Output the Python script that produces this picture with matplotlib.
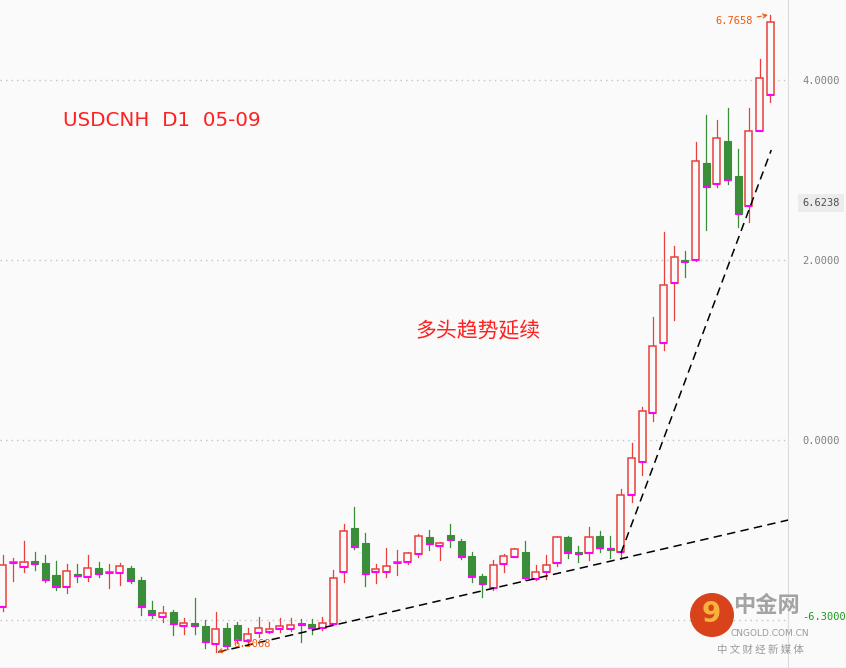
import matplotlib
matplotlib.use("Agg")
import matplotlib.pyplot as plt
import matplotlib.patches as patches

# DAILY CANDLES (USDCNH D1)
opens = [6.3144, 6.3496, 6.3464, 6.3512, 6.3496, 6.3400, 6.3304, 6.3408, 6.3384, 6.3456,
         6.3420, 6.3416, 6.3456, 6.3360, 6.3120, 6.3064, 6.3104, 6.2992, 6.3016, 6.2992,
         6.2848, 6.2976, 6.3000, 6.2872, 6.2936, 6.2944, 6.2968, 6.2968, 6.3016, 6.3008,
         6.2976, 6.3008, 6.3424, 6.3776, 6.3656, 6.3424, 6.3424, 6.3496, 6.3504, 6.3568,
         6.3704, 6.3632, 6.3720, 6.3672, 6.3552, 6.3392, 6.3296, 6.3488, 6.3544, 6.3584,
         6.3368, 6.3424, 6.3496, 6.3704, 6.3584, 6.3576, 6.3712, 6.3616, 6.3584, 6.4040,
         6.4304, 6.4696, 6.5256, 6.5736, 6.5920, 6.5920, 6.6696, 6.6528, 6.6872, 6.6592,
         6.6352, 6.6952, 6.7240]
highs = [6.3560, 6.3536, 6.3672, 6.3584, 6.3560, 6.3512, 6.3488, 6.3488, 6.3560, 6.3504,
         6.3488, 6.3496, 6.3472, 6.3384, 6.3192, 6.3152, 6.3120, 6.3056, 6.3216, 6.3040,
         6.3104, 6.3016, 6.3024, 6.2976, 6.3064, 6.3024, 6.3056, 6.3056, 6.3048, 6.3048,
         6.3064, 6.3440, 6.3808, 6.3944, 6.3736, 6.3488, 6.3616, 6.3600, 6.3584, 6.3728,
         6.3760, 6.3664, 6.3808, 6.3688, 6.3584, 6.3408, 6.3520, 6.3568, 6.3616, 6.3672,
         6.3480, 6.3560, 6.3712, 6.3712, 6.3632, 6.3784, 6.3752, 6.3712, 6.4088, 6.4456,
         6.4744, 6.5464, 6.6144, 6.6032, 6.5992, 6.6864, 6.7080, 6.7040, 6.7136, 6.6808,
         6.7136, 6.7528, 6.7880]
lows = [6.3112, 6.3352, 6.3424, 6.3440, 6.3344, 6.3280, 6.3256, 6.3344, 6.3352, 6.3384,
        6.3296, 6.3320, 6.3336, 6.3080, 6.3056, 6.3024, 6.2920, 6.2928, 6.2928, 6.2816,
        6.2784, 6.2808, 6.2856, 6.2840, 6.2904, 6.2936, 6.2944, 6.2952, 6.2864, 6.2928,
        6.2960, 6.3000, 6.3344, 6.3608, 6.3312, 6.3336, 6.3384, 6.3400, 6.3488, 6.3544,
        6.3600, 6.3520, 6.3624, 6.3528, 6.3344, 6.3224, 6.3280, 6.3424, 6.3544, 6.3360,
        6.3360, 6.3368, 6.3472, 6.3536, 6.3504, 6.3520, 6.3584, 6.3536, 6.3528, 6.3984,
        6.4200, 6.4632, 6.5200, 6.5440, 6.5784, 6.5912, 6.6160, 6.6504, 6.6528, 6.6184,
        6.6224, 6.6952, 6.7184]
closes = [6.3480, 6.3504, 6.3504, 6.3488, 6.3360, 6.3304, 6.3432, 6.3392, 6.3456, 6.3408,
          6.3424, 6.3472, 6.3352, 6.3144, 6.3080, 6.3096, 6.3008, 6.3016, 6.2992, 6.2864,
          6.2968, 6.2832, 6.2880, 6.2928, 6.2976, 6.2968, 6.2992, 6.3000, 6.3000, 6.2976,
          6.3016, 6.3376, 6.3752, 6.3624, 6.3408, 6.3448, 6.3472, 6.3504, 6.3576, 6.3712,
          6.3648, 6.3656, 6.3680, 6.3544, 6.3384, 6.3328, 6.3480, 6.3552, 6.3608, 6.3376,
          6.3424, 6.3480, 6.3704, 6.3576, 6.3568, 6.3704, 6.3616, 6.3604, 6.4040, 6.4336,
          6.4712, 6.5232, 6.5720, 6.5944, 6.5904, 6.6712, 6.6504, 6.6896, 6.6560, 6.6288,
          6.6952, 6.7376, 6.7824]

# price scale labels as shown on the chart
grid_levels = [6.736, 6.592, 6.448, 6.304]
grid_labels = ["4.0000", "2.0000", "0.0000", ""]
marker_price = 6.6376
marker_label = "6.6238"
bid_price = 6.3064
bid_label = "-6.3000"

# annotations
high_idx, high_price, high_label = 72, 6.7880, "6.7658"
low_idx, low_price, low_label = 20, 6.2784, "6.3068"

# trend lines (bar index, price)
support_x = [20.2, 73.7]
support_y = [6.2784, 6.3840]
steep_x = [58.0, 72.1]
steep_y = [6.3576, 6.6800]

title = "USDCNH  D1  05-09"
comment = "多头趋势延续"

UP = '#e8403c'
DOWN = '#3a8e3a'
BG = '#fafafa'
MAGENTA = '#ff00ff'
ORANGE = '#f05a10'
YMIN, YMAX = 6.2656, 6.8

fig = plt.figure(figsize=(8.46, 6.68), dpi=100, facecolor=BG)
ax = fig.add_axes([0, 0, 788 / 846, 1])
ax.set_facecolor(BG)

w = 0.66
for i in range(len(opens)):
    o, h, l, c = opens[i], highs[i], lows[i], closes[i]
    top, bot = max(o, c), min(o, c)
    if c >= o:
        ax.plot([i, i], [top, h], color=UP, lw=0.9, zorder=2)
        ax.plot([i, i], [l, bot], color=UP, lw=0.9, zorder=2)
        ax.add_patch(patches.Rectangle((i - w / 2, bot), w, max(top - bot, 0.0002),
                                       edgecolor=UP, facecolor=BG, lw=1.1, zorder=3))
    else:
        ax.plot([i, i], [l, h], color=DOWN, lw=0.9, zorder=2)
        ax.add_patch(patches.Rectangle((i - w / 2, bot), w, max(top - bot, 0.0002),
                                       edgecolor=DOWN, facecolor=DOWN, lw=0.8, zorder=3))
    ax.plot([i - w / 2, i + w / 2], [bot, bot], color=MAGENTA, lw=1.5, zorder=4,
            solid_capstyle='butt')

# trend lines
ax.plot(support_x, support_y, color='black', lw=1.1, linestyle=(0, (5.5, 3.5)), zorder=5)
ax.plot(steep_x, steep_y, color='black', lw=1.1, linestyle=(0, (5.5, 3.5)), zorder=5)

ax.set_xlim(-0.253, 73.67)
ax.set_ylim(YMIN, YMAX)

# grid + right price scale
ax.set_yticks(grid_levels, grid_labels)
ax.yaxis.tick_right()
ax.tick_params(axis='y', length=0, pad=10.5, labelsize=7.5, labelcolor='#808080')
for lab in ax.get_yticklabels():
    lab.set_family('DejaVu Sans Mono')
ax.set_xticks([])
ax.grid(axis='y', color='#c4c4c4', linestyle=(0, (1, 3)), lw=1)
for side in ['top', 'left', 'bottom']:
    ax.spines[side].set_visible(False)
ax.spines['right'].set_color('#dcdcdc')
ax.set_axisbelow(True)

ax.text(1.0185, (marker_price - YMIN) / (YMAX - YMIN), marker_label, transform=ax.transAxes,
        ha='left', va='center', fontsize=7.5, family='DejaVu Sans Mono', color='#505050',
        bbox=dict(boxstyle='square,pad=0.4', facecolor='#ececec', edgecolor='none'))
ax.text(1.0185, (bid_price - YMIN) / (YMAX - YMIN), bid_label, transform=ax.transAxes,
        ha='left', va='center', fontsize=7.5, family='DejaVu Sans Mono', color='#1a9a1a',
        clip_on=False, zorder=1)

# high / low labels
ax.annotate(high_label, xy=(high_idx - 0.2, high_price), xytext=(70.4, 6.7832),
            ha='right', va='center', fontsize=7.5, family='DejaVu Sans Mono', color=ORANGE,
            zorder=8, arrowprops=dict(arrowstyle='->', color=ORANGE, lw=0.8, linestyle='--',
                                      shrinkA=1, shrinkB=0))
ax.annotate(low_label, xy=(low_idx + 0.1, low_price), xytext=(21.6, 6.2848),
            ha='left', va='center', fontsize=7.5, family='DejaVu Sans Mono', color=ORANGE,
            zorder=8, arrowprops=dict(arrowstyle='->', color=ORANGE, lw=0.8, linestyle='--',
                                      shrinkA=1, shrinkB=0))

# titles
fig.text(63 / 846, 1 - 120 / 668, title, ha='left', va='center', fontsize=14.3,
         color='#ff2020', family='DejaVu Sans')
fig.text(478 / 846, 1 - 331 / 668, comment, ha='center', va='center', fontsize=15,
         color='#ff2020', family=['Noto Sans CJK SC', 'DejaVu Sans'])

# watermark
fig.patches.append(patches.Ellipse((712 / 846, 1 - 615 / 668), 44 / 846, 44 / 668,
                                   transform=fig.transFigure, facecolor='#d9431c',
                                   edgecolor='none', zorder=6))
fig.text(711 / 846, 1 - 614 / 668, "9", ha='center', va='center', fontsize=20,
         fontweight='bold', color='#f7b23b', zorder=7)
fig.text(766 / 846, 1 - 606 / 668, "中金网", ha='center', va='center', fontsize=16,
         fontweight='bold', color='#9a9a9a', alpha=0.9, zorder=7,
         family=['Noto Sans CJK SC', 'DejaVu Sans'])
fig.text(770 / 846, 1 - 634 / 668, "CNGOLD.COM.CN", ha='center', va='center', fontsize=6.5,
         color='#9a9a9a', zorder=7)
fig.text(760 / 846, 1 - 650 / 668, "中 文 财 经 新 媒 体", ha='center', va='center',
         fontsize=7.5, color='#9a9a9a', zorder=7, family=['Noto Sans CJK SC', 'DejaVu Sans'])

fig.add_artist(plt.Line2D([0, 1], [0.5 / 668, 0.5 / 668], color='#dcdcdc', lw=1))

fig.savefig('out.png', dpi=100, facecolor=BG)
